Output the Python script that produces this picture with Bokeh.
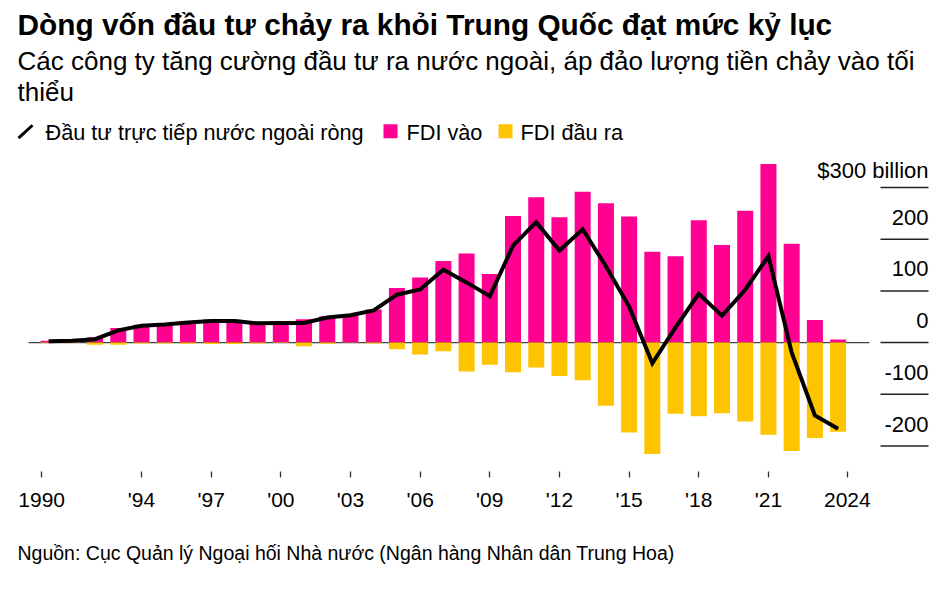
from bokeh.plotting import figure
from bokeh.models import Range1d, FixedTicker, Title
from bokeh.core.properties import value
from bokeh.embed import file_html
from bokeh.resources import INLINE

# ---------------- data (billion USD) ----------------
years = list(range(1990, 2025))
fdi_inflow = [3.5, 4.4, 10.5, 28.0, 34.5, 37.0, 41.0, 44.4, 44.2, 39.0,
              39.0, 45.0, 51.0, 53.0, 64.0, 105.6, 126.0, 157.7, 172.4, 132.6,
              245.0, 281.0, 242.6, 292.0, 269.7, 243.8, 175.7, 167.0, 236.8, 188.6,
              254.8, 345.6, 191.0, 43.8, 5.8]
fdi_outflow = [-0.8, -0.9, -4.0, -4.4, -2.0, -2.0, -2.1, -2.6, -2.6, -1.8,
               -0.9, -6.9, -2.5, -0.2, -1.8, -13.0, -23.2, -16.8, -56.0, -43.0,
               -57.5, -48.0, -64.6, -72.8, -122.0, -174.2, -215.8, -137.8, -142.4, -136.6,
               -152.6, -178.2, -210.0, -184.8, -172.5]
net_fdi = [2.7, 3.5, 6.5, 23.6, 32.5, 35.0, 38.9, 41.8, 41.6, 37.2,
           38.1, 38.1, 48.5, 52.8, 62.2, 92.6, 102.8, 140.9, 116.4, 89.6,
           187.5, 233.0, 178.0, 219.2, 147.7, 69.6, -40.1, 29.2, 94.4, 52.0,
           102.2, 167.4, -19.0, -141.0, -166.7]

x_ticks = [1989.7, 1994, 1997, 2000, 2003, 2006, 2009, 2012, 2015, 2018, 2021, 2024.4]
x_tick_labels = ["1990", "'94", "'97", "'00", "'03", "'06", "'09", "'12", "'15", "'18", "'21", "2024"]
y_ticks = [-200, -100, 0, 100, 200, 300]
y_tick_labels = ["-200", "-100", "0", "100", "200", "$300 billion"]

TITLE = "Dòng vốn đầu tư chảy ra khỏi Trung Quốc đạt mức kỷ lục"
SUBTITLE_1 = "Các công ty tăng cường đầu tư ra nước ngoài, áp đảo lượng tiền chảy vào tối"
SUBTITLE_2 = "thiểu"
LEGEND_NET = "Đầu tư trực tiếp nước ngoài ròng"
LEGEND_IN = "FDI vào"
LEGEND_OUT = "FDI đầu ra"
SOURCE = "Nguồn: Cục Quản lý Ngoại hối Nhà nước (Ngân hàng Nhân dân Trung Hoa)"

MAGENTA = "#FF0090"
YELLOW = "#FFC400"
FONT = "Liberation Sans"
ASC = 0.905          # font ascent (em) used to place text by its top edge

# ---------------- layout helpers (page pixels -> data) ----------------
W, H = 935, 590
PAGE = 0             # observed page offset of the canvas
PPX = 23.22          # px per year
PPY = 0.518          # px per billion
X_1994 = 141.0       # page x of 1994
Y_ZERO = 342.8       # page y of 0
FRAME_BOTTOM = 472   # page y of frame bottom


def dx(px):
    return 1994 + (px - X_1994) / PPX


def dy(py):
    return (Y_ZERO - py) / PPY


def top_of(baseline, size):
    """data y of the text box top for a given page baseline and font size"""
    return dy(baseline - ASC * size)


p = figure(width=W, height=H, output_backend="svg", toolbar_location=None,
           x_range=Range1d(dx(PAGE), dx(PAGE + W)),
           y_range=Range1d(dy(FRAME_BOTTOM), dy(PAGE)),
           y_axis_location=None,
           min_border_left=0, min_border_right=0, min_border_top=0,
           min_border_bottom=H - (FRAME_BOTTOM - PAGE))
p.outline_line_color = None
p.grid.visible = False
p.background_fill_color = "white"
p.border_fill_color = "white"

# x axis
ax = p.xaxis[0]
ax.ticker = FixedTicker(ticks=x_ticks)
ax.major_label_overrides = {t: l for t, l in zip(x_ticks, x_tick_labels)}
ax.axis_line_color = None
ax.minor_tick_line_color = None
ax.major_tick_in = 0
ax.major_tick_out = 6
ax.major_tick_line_color = "#333333"
ax.major_tick_line_width = 1.3
ax.major_label_standoff = 10
ax.major_label_text_font = FONT
ax.major_label_text_font_size = "21px"
ax.major_label_text_color = "#000000"

# source note under the axis
p.add_layout(Title(text=SOURCE, align="left", offset=17, standoff=53,
                   text_font=FONT, text_font_size="19.5px", text_font_style="normal",
                   text_color="#000000"), "below")

# zero baseline
p.segment(x0=[dx(28)], y0=[0], x1=[dx(869)], y1=[0], line_color="#444444", line_width=1.3)

# bars
p.vbar(x=years, top=fdi_inflow, bottom=0, width=0.69, fill_color=MAGENTA, line_color=None)
p.vbar(x=years, top=0, bottom=fdi_outflow, width=0.69, fill_color=YELLOW, line_color=None)

# net line
p.line(years, net_fdi, line_color="black", line_width=4, line_join="miter")

# right-side value labels with short rules
n = len(y_ticks)
p.segment(x0=[dx(880)] * n, y0=y_ticks, x1=[dx(928)] * n, y1=y_ticks,
          line_color="#222222", line_width=1.5)
p.text(x=[dx(928)] * n, y=y_ticks, text=y_tick_labels, text_align="right",
       text_baseline="top", y_offset=-(9.5 + ASC * 22), text_font=value(FONT),
       text_font_size="22px", text_color="#000000")

# title / subtitle
p.text(x=[dx(17)], y=[top_of(34.3, 29.8)], text=[TITLE], text_font=value(FONT),
       text_font_style="bold", text_font_size="29.8px", text_baseline="top",
       text_color="#000000")
p.text(x=[dx(17), dx(17)], y=[top_of(69, 26), top_of(100.5, 26)], text=[SUBTITLE_1, SUBTITLE_2],
       text_font=value(FONT), text_font_size="26px", text_baseline="top",
       text_color="#000000")

# legend
p.segment(x0=[dx(18)], y0=[dy(138)], x1=[dx(32)], y1=[dy(125)], line_color="black", line_width=3)
p.quad(left=[dx(383), dx(498)], right=[dx(397), dx(512)], top=[dy(124), dy(124)],
       bottom=[dy(138), dy(138)], fill_color=[MAGENTA, YELLOW], line_color=None)
p.text(x=[dx(45), dx(406), dx(520)], y=[top_of(139.3, 21.7)] * 3,
       text=[LEGEND_NET, LEGEND_IN, LEGEND_OUT],
       text_font=value(FONT), text_font_size="21.7px", text_baseline="top",
       text_color="#000000")

open("out.html", "w").write(file_html(p, INLINE))
